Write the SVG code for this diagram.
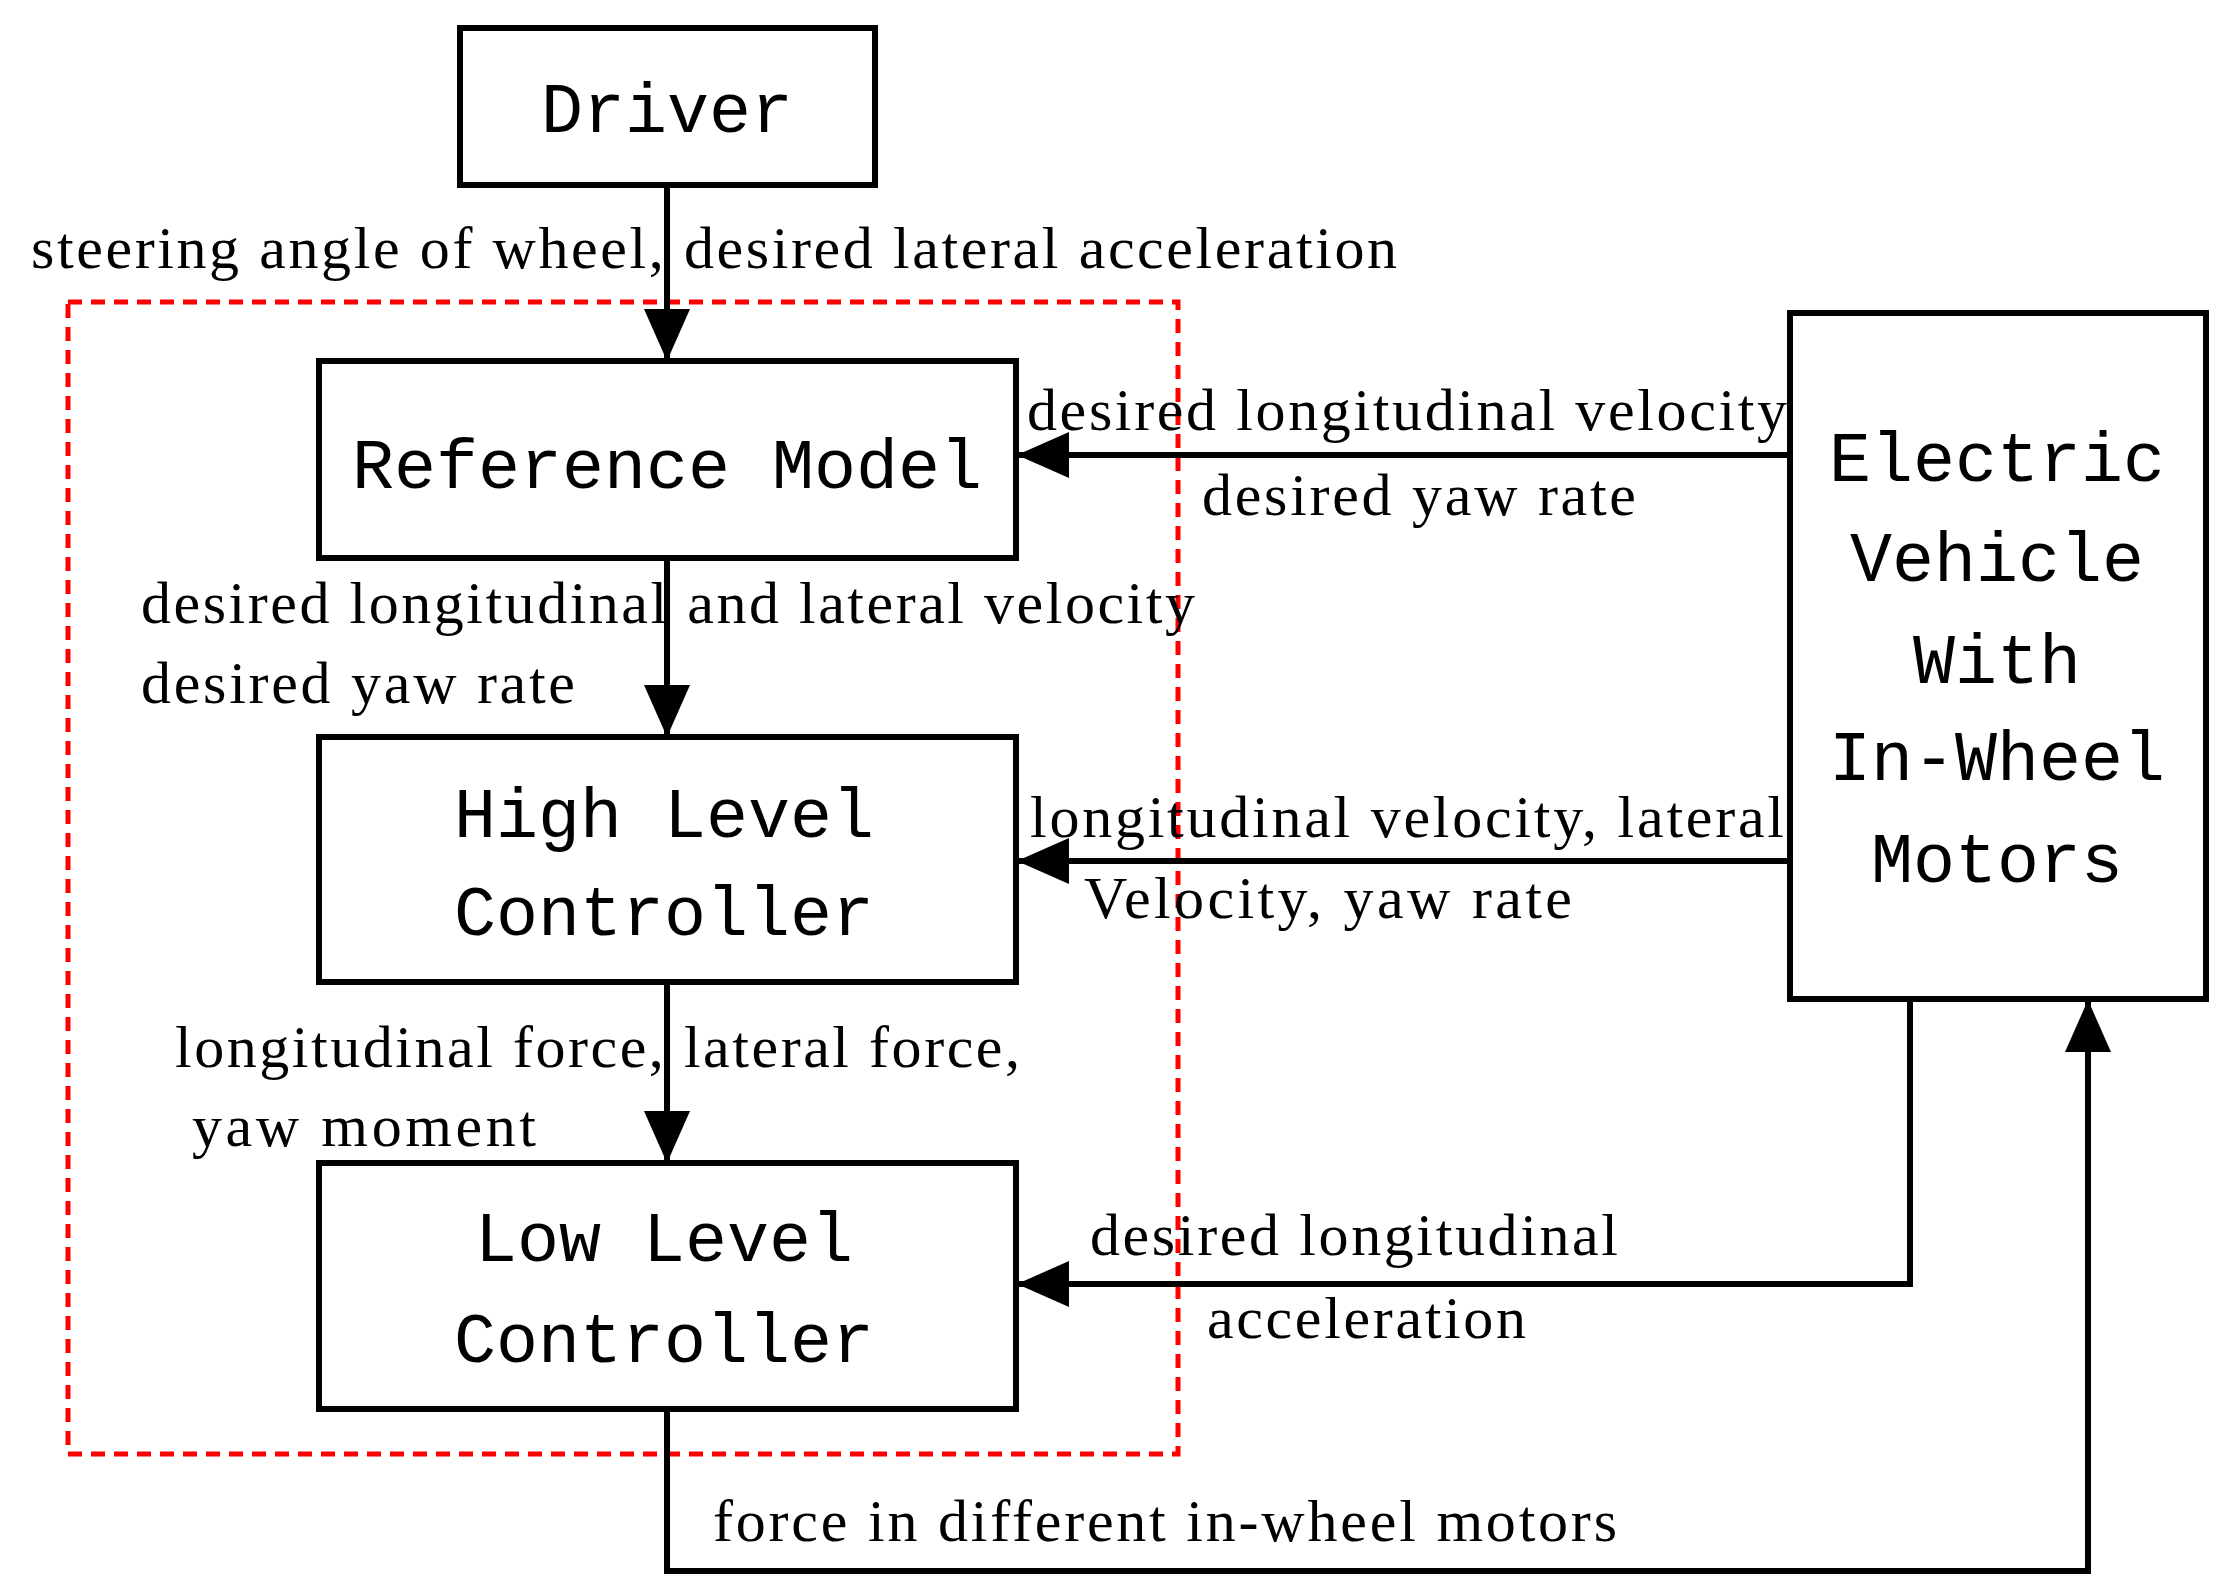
<svg xmlns="http://www.w3.org/2000/svg" width="2220" height="1585" viewBox="0 0 2220 1585">
<defs>
<marker id="ah" markerUnits="userSpaceOnUse" markerWidth="52" markerHeight="46" refX="50" refY="23" orient="auto">
<path d="M0,0 L52,23 L0,46 Z" fill="#000"/>
</marker>
<style>
.box{fill:#fff;stroke:#000;stroke-width:6}
.mono{font-family:"Liberation Mono",monospace;font-size:70px;text-anchor:middle;fill:#000}
.lab{font-family:"Liberation Serif",serif;font-size:60px;fill:#000}
.ln{fill:none;stroke:#000;stroke-width:6}
</style>
</defs>
<rect width="2220" height="1585" fill="#fff"/>
<rect x="68" y="302" width="1110" height="1152" fill="none" stroke="#f00" stroke-width="5" stroke-dasharray="14,9"/>
<g id="connectors">
<path class="ln" d="M667,185 V359" marker-end="url(#ah)"/>
<path class="ln" d="M667,558 V735" marker-end="url(#ah)"/>
<path class="ln" d="M667,982 V1161" marker-end="url(#ah)"/>
<path class="ln" d="M1790,455 H1019" marker-end="url(#ah)"/>
<path class="ln" d="M1790,861 H1019" marker-end="url(#ah)"/>
<path class="ln" d="M1910,999 V1284 H1019" marker-end="url(#ah)"/>
<path class="ln" d="M667,1409 V1571 H2088 V1002" marker-end="url(#ah)"/>
</g>
<g id="driver"><rect class="box" x="460" y="28" width="415" height="157"/><text class="mono" x="667" y="132">Driver</text></g>
<g id="reference-model"><rect class="box" x="319" y="361" width="697" height="197"/><text class="mono" x="667" y="488">Reference Model</text></g>
<g id="high-level"><rect class="box" x="319" y="737" width="697" height="245"/><text class="mono" x="664" y="837">High Level</text><text class="mono" x="664" y="935">Controller</text></g>
<g id="low-level"><rect class="box" x="319" y="1163" width="697" height="246"/><text class="mono" x="664" y="1261">Low Level</text><text class="mono" x="664" y="1362">Controller</text></g>
<g id="ev"><rect class="box" x="1790" y="313" width="416" height="686"/>
<text class="mono" x="1997" y="481">Electric</text><text class="mono" x="1997" y="581">Vehicle</text><text class="mono" x="1997" y="683">With</text><text class="mono" x="1997" y="780">In-Wheel</text><text class="mono" x="1997" y="882">Motors</text></g>
<g id="labels">
<text class="lab" x="31" y="268" textLength="1366" lengthAdjust="spacing">steering angle of wheel, desired lateral acceleration</text>
<text class="lab" x="1027" y="430" textLength="760" lengthAdjust="spacing">desired longitudinal velocity</text>
<text class="lab" x="1202" y="515" textLength="434" lengthAdjust="spacing">desired yaw rate</text>
<text class="lab" x="141" y="623" textLength="1054" lengthAdjust="spacing">desired longitudinal and lateral velocity</text>
<text class="lab" x="141" y="703" textLength="434" lengthAdjust="spacing">desired yaw rate</text>
<text class="lab" x="1030" y="837" textLength="754" lengthAdjust="spacing">longitudinal velocity, lateral</text>
<text class="lab" x="1084" y="918" textLength="488" lengthAdjust="spacing">Velocity, yaw rate</text>
<text class="lab" x="175" y="1067" textLength="845" lengthAdjust="spacing">longitudinal force, lateral force,</text>
<text class="lab" x="192" y="1146" textLength="344" lengthAdjust="spacing">yaw moment</text>
<text class="lab" x="1090" y="1255" textLength="528" lengthAdjust="spacing">desired longitudinal</text>
<text class="lab" x="1207" y="1338" textLength="319" lengthAdjust="spacing">acceleration</text>
<text class="lab" x="713" y="1541" textLength="904" lengthAdjust="spacing">force in different in-wheel motors</text>
</g>
</svg>
